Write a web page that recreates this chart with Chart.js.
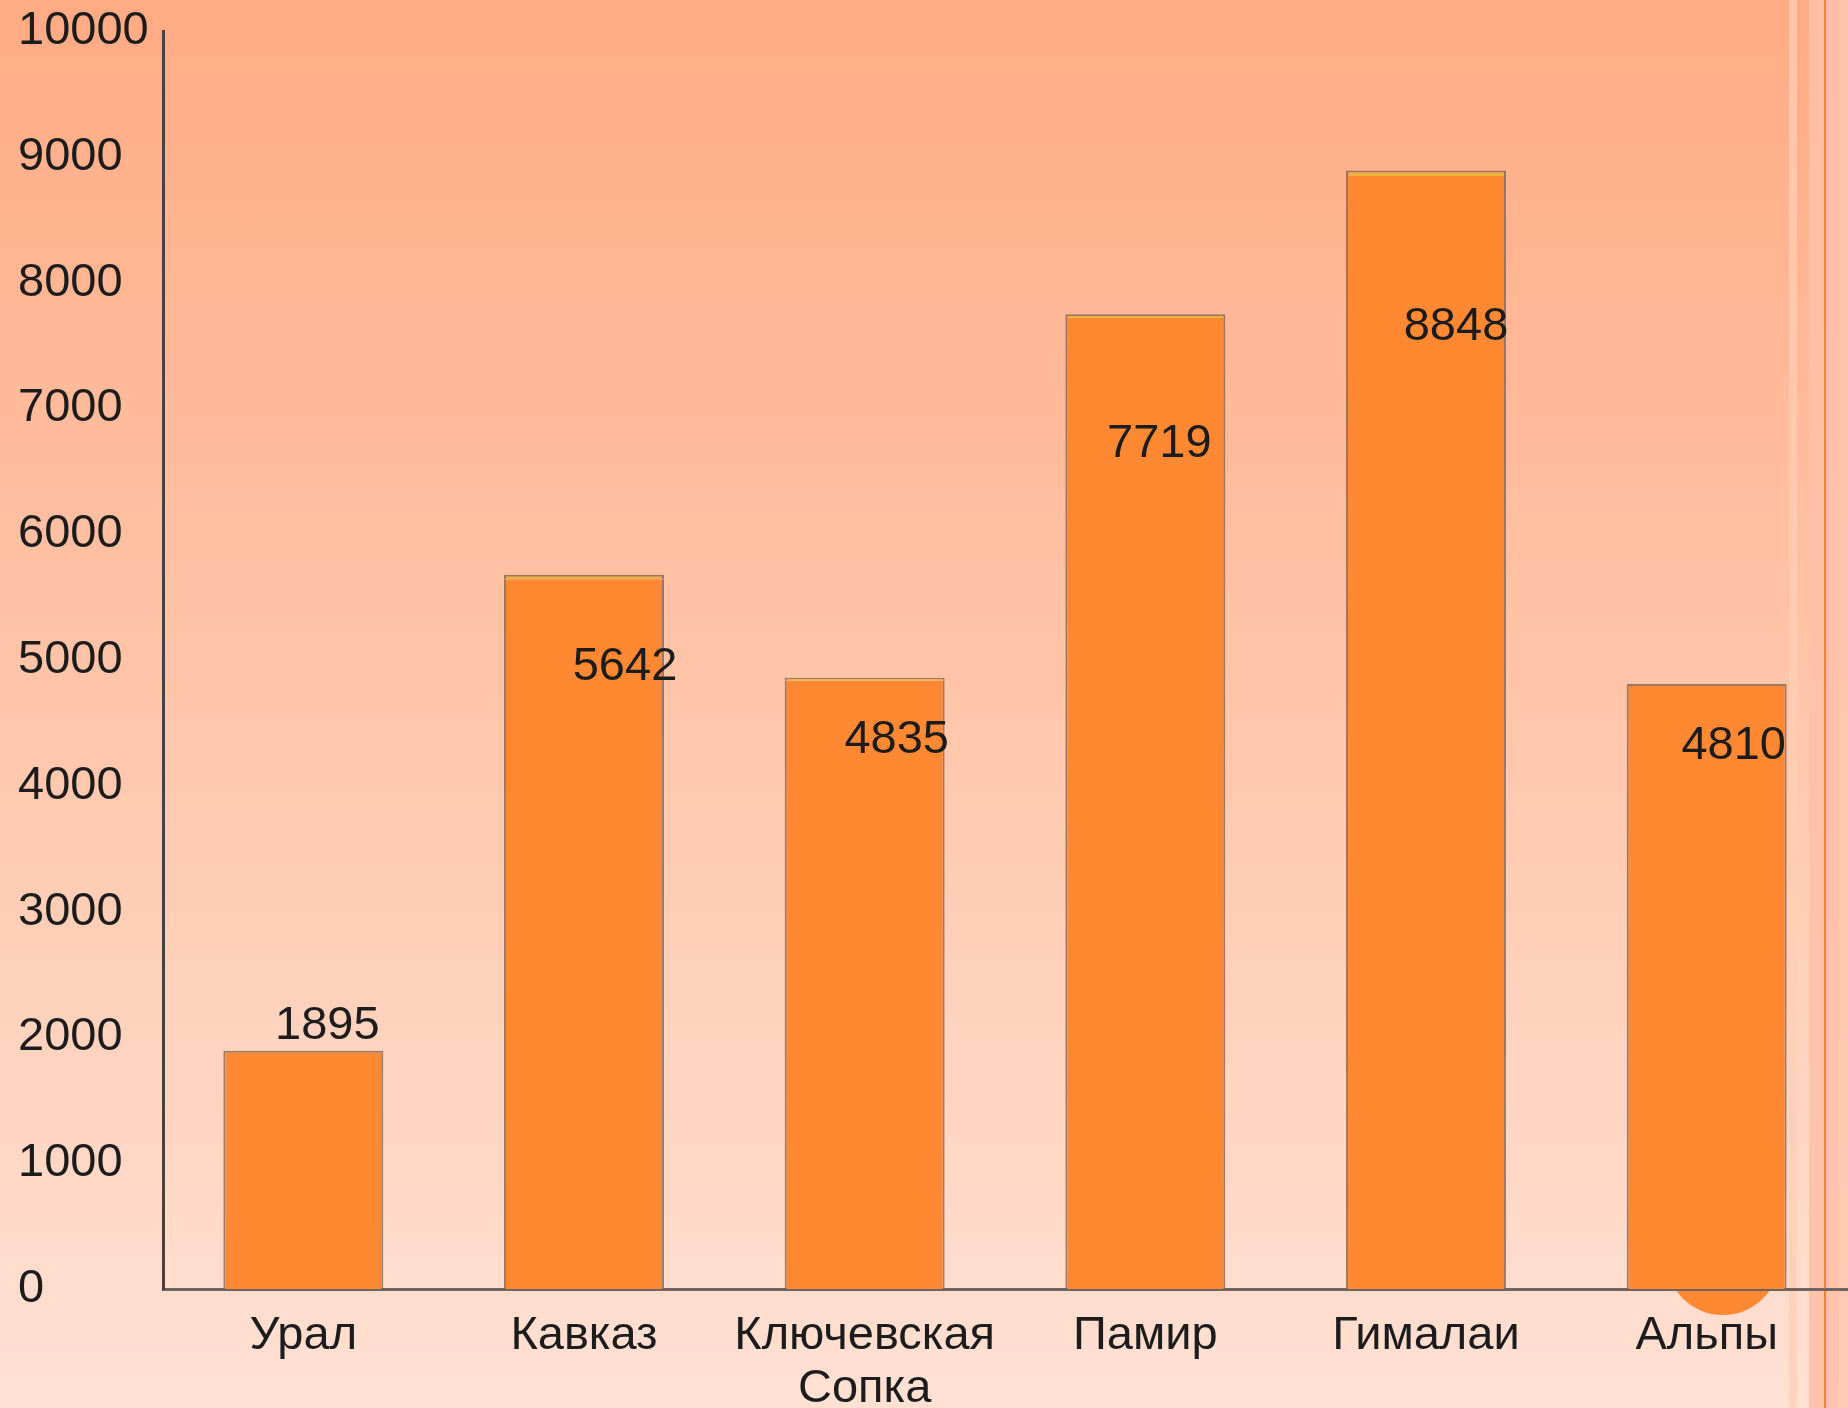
<!DOCTYPE html>
<html>
<head>
<meta charset="utf-8">
<script src="https://cdn.jsdelivr.net/npm/chart.js@4"></script>
<style>
  body { margin: 0; }
  #wrap {
    position: relative; width: 1848px; height: 1408px; overflow: hidden;
    background: linear-gradient(to bottom, #ffab84 0%, #ffc3a6 45%, #ffe1d4 100%);
  }
  .stripe { position: absolute; top: 0; height: 1408px; }
  #dot {
    position: absolute; left: 1666px; top: 1201px; width: 114px; height: 114px;
    border-radius: 50%; background: #ff8833;
  }
  canvas { position: absolute; left: 0; top: 0; }
</style>
</head>
<body>
<div id="wrap">
  <div class="stripe" style="left:1789px;width:8px;background:rgba(255,205,182,0.75)"></div>
  <div class="stripe" style="left:1809px;width:15px;background:rgba(255,192,168,0.9)"></div>
  <div class="stripe" style="left:1824px;width:2px;background:#ff7f2a"></div>
  <div class="stripe" style="left:1826px;width:13px;background:rgba(255,192,168,0.9)"></div>
  <div class="stripe" style="left:1839px;width:9px;background:rgba(255,198,176,0.85)"></div>
  <div id="dot"></div>
  <canvas id="chart" width="1848" height="1408"></canvas>
</div>
<script>
let categories = ['Урал', 'Кавказ', ['Ключевская', 'Сопка'], 'Памир', 'Гималаи', 'Альпы'];
let heights = [1895, 5642, 4835, 7719, 8848, 4810];
// thin yellow series stacked on top of some bars
let topStrip = [0, 37, 25, 30, 44, 0];
let yTicks = [0, 1000, 2000, 3000, 4000, 5000, 6000, 7000, 8000, 9000, 10000];

// where each value label sits, relative to the top of its bar
let labelOffsets = [[24, -25], [41, 88], [32, 59], [14, 126], [30, 151], [27, 62]];

const font = { family: 'Liberation Sans, Arial, sans-serif', size: 47 };
const barEdge = 'rgba(130,100,85,0.8)';

const valueLabels = {
    id: 'valueLabels',
    afterDatasetsDraw(chart) {
        const ctx = chart.ctx;
        const meta = chart.getDatasetMeta(0);
        ctx.save();
        ctx.font = font.size + 'px ' + font.family;
        ctx.fillStyle = '#1c1c1c';
        ctx.textAlign = 'center';
        ctx.textBaseline = 'middle';
        meta.data.forEach(function (bar, i) {
            ctx.fillText(String(heights[i]), bar.x + labelOffsets[i][0], bar.y + labelOffsets[i][1]);
        });
        ctx.restore();
    }
};

new Chart(document.getElementById('chart'), {
    type: 'bar',
    data: {
        labels: categories,
        datasets: [{
            label: 'Высота',
            data: heights,
            backgroundColor: '#ff8833',
            borderColor: barEdge,
            borderSkipped: false,
            borderWidth: function (c) {
                return { left: 2, right: 2, bottom: 0, top: topStrip[c.dataIndex] > 0 ? 0 : 2 };
            },
            barPercentage: 0.57,
            categoryPercentage: 1
        }, {
            label: 'top',
            data: topStrip,
            backgroundColor: '#f0b23e',
            borderColor: barEdge,
            borderSkipped: 'bottom',
            borderWidth: 2,
            barPercentage: 0.57,
            categoryPercentage: 1
        }]
    },
    options: {
        responsive: false,
        animation: false,
        layout: { padding: { left: 18, top: 26, right: 1, bottom: 0 } },
        plugins: {
            legend: { display: false },
            tooltip: { enabled: false }
        },
        scales: {
            x: {
                stacked: true,
                grid: { display: false, drawTicks: false },
                border: { display: true, color: '#6e6460', width: 3 },
                ticks: { color: '#1c1c1c', font: Object.assign({ lineHeight: 1.13 }, font), padding: 20, maxRotation: 0, autoSkip: false },
                afterFit: function (s) { s.height = 119; }
            },
            y: {
                stacked: true,
                min: 0,
                max: 10000,
                afterBuildTicks: function (s) { s.ticks = yTicks.map(v => ({ value: v })); },
                grid: { display: false, drawTicks: false },
                border: { display: true, color: '#4a4040', width: 3 },
                ticks: {
                    color: '#1c1c1c',
                    font: font,
                    crossAlign: 'far',
                    callback: function (v) { return String(v); }
                },
                afterFit: function (s) { s.width = 145; }
            }
        }
    },
    plugins: [valueLabels]
});
</script>
</body>
</html>
